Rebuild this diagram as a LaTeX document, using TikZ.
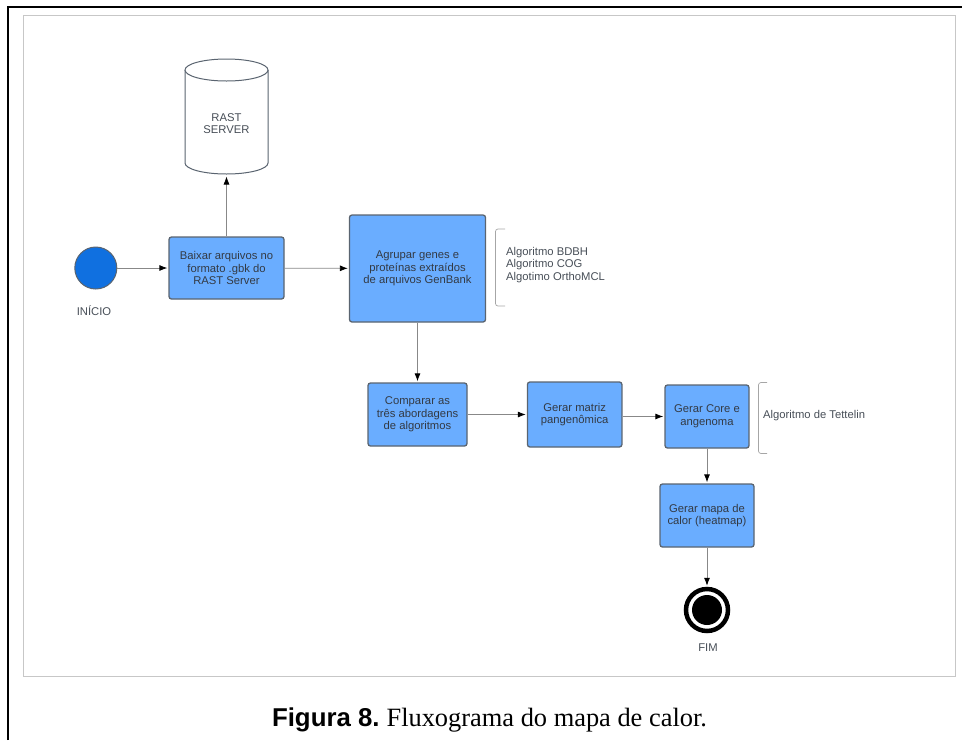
\documentclass[tikz,border=0pt]{standalone}
\usepackage{fontspec}
\setmainfont{Liberation Sans}
\newfontfamily\capserif{Liberation Serif}
\usetikzlibrary{arrows.meta,shapes.geometric}
\definecolor{boxblue}{HTML}{6AADFF}
\definecolor{boxedge}{HTML}{5A6470}
\definecolor{startblue}{HTML}{1070E0}
\definecolor{linegray}{HTML}{888888}
\definecolor{txt}{HTML}{333A44}
\tikzset{
  x=1pt,y=-1pt,
  procbox/.style={draw=boxedge,fill=boxblue,line width=1.3pt,rounded corners=2.5pt,inner sep=0pt,
    align=center,font=\fontsize{11.25}{12.6}\selectfont,text=txt},
  flow/.style={draw=linegray,line width=0.8pt,-{Latex[black,length=8pt,width=6pt]},shorten >=1pt},
  plainlabel/.style={inner sep=0pt,font=\fontsize{11.25}{12.6}\selectfont,text=txt!90!white},
  bracketline/.style={draw=gray!70,line width=0.7pt,rounded corners=2.5pt},
}
\begin{document}
\begin{tikzpicture}
\useasboundingbox (0,0) rectangle (962,740);
% page frame
\path[draw=black,line width=2pt] (8,740) coordinate (fa) -- (8,6.5) -- (962,6.5) coordinate (fb);
\path[draw=black!22,line width=1pt] (23.5,15) rectangle (955,676);

% cylinder
\coordinate (cylT) at (226.5,70);
\path[draw=boxedge,fill=white,line width=1pt] (185,70) -- (185,163) arc[x radius=41.5,y radius=11,start angle=180,end angle=0] -- (268,70);
\draw[draw=boxedge,fill=white,line width=1pt] (cylT) ellipse[x radius=41.5,y radius=11];
\node[plainlabel,align=center] (rast) at (226.5,123.5) {RAST\\SERVER};
\coordinate (cyl) at (226.5,175.5);

% start
\node[circle,draw=boxedge,fill=startblue,line width=1pt,minimum size=42pt,inner sep=0pt] (start) at (95.8,268) {};
\node[plainlabel] (inicio) at (94,311) {INÍCIO};

% boxes
\node[procbox,minimum width=115pt,minimum height=62pt] (baixar) at (226.5,268) {\raisebox{-1pt}{\parbox{115pt}{\centering Baixar arquivos no\\formato .gbk do\\RAST Server}}};
\node[procbox,minimum width=136pt,minimum height=107pt] (agrupar) at (417.5,268.5) {};
\node[align=center,inner sep=0pt,font=\fontsize{11.25}{12.6}\selectfont,text=txt] (agruparT) at (417.5,268.3) {Agrupar genes e\\proteínas extraídos\\de arquivos GenBank};
\node[procbox,minimum width=99pt,minimum height=63pt] (comparar) at (417.5,414.5) {\raisebox{-0.5pt}{\parbox{99pt}{\centering Comparar as\\três abordagens\\de algoritmos}}};
\node[procbox,minimum width=94.5pt,minimum height=65pt] (matriz) at (574.7,414.5) {\raisebox{-0.5pt}{\parbox{94.5pt}{\centering Gerar matriz\\pangenômica}}};
\node[procbox,minimum width=84pt,minimum height=63pt] (core) at (707,416.5) {\raisebox{-0.5pt}{\parbox{84pt}{\centering Gerar Core e\\angenoma}}};
\node[procbox,minimum width=94pt,minimum height=63pt] (mapa) at (707,515.5) {\raisebox{-0.5pt}{\parbox{94pt}{\centering Gerar mapa de\\calor (heatmap)}}};

% end
\node[circle,draw=black,fill=white,line width=4.5pt,minimum size=42pt,inner sep=0pt] (fim) at (707,610) {};
\node[circle,fill=black,minimum size=30pt,inner sep=0pt] (fimc) at (707,610) {};
\node[plainlabel] (fimt) at (708,648) {FIM};

% connectors
\draw[flow] (start) -- (baixar);
\draw[flow] (baixar) -- (cyl);
\draw[flow] (baixar) -- (agrupar);
\draw[flow] (agrupar) -- (comparar);
\draw[flow] (comparar.east) -- (comparar.east -| matriz.west);
\draw[flow] (matriz.east |- core.west) -- (core.west);
\draw[flow] (core) -- (mapa);
\draw[flow] (mapa) -- (fim);

% brackets
\draw[bracketline] (505,229) -- (495.5,229) -- (495.5,306) -- (505,306);
\node[plainlabel,anchor=north west,align=left] (algs) at (506,247) {Algoritmo BDBH\\Algoritmo COG\\Algotimo OrthoMCL};
\draw[bracketline] (767,382.5) -- (758.5,382.5) -- (758.5,453.5) -- (767,453.5);
\node[plainlabel,anchor=west] (tett) at (763,416) {Algoritmo de Tettelin};

% caption
\node[inner sep=0pt,anchor=base] (cap) at (489.5,726) {\fontsize{25.8}{28}\selectfont\textbf{Figura 8.}\hspace{7pt}{\capserif\fontsize{26.4}{28}\selectfont Fluxograma do mapa de calor.}};
\end{tikzpicture}
\end{document}
